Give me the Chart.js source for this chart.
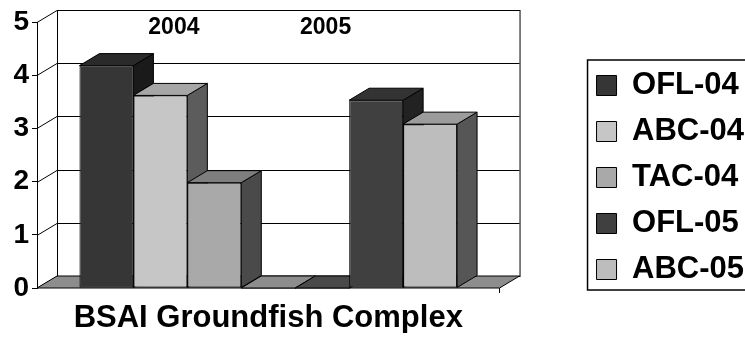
<!DOCTYPE html>
<html>
<head>
<meta charset="utf-8">
<script src="https://cdn.jsdelivr.net/npm/chart.js@4.4.1/dist/chart.umd.min.js"></script>
<style>
  html, body { margin: 0; padding: 0; background: #fff; }
  #wrap { width: 745px; height: 339px; position: relative; }
</style>
</head>
<body>
<div id="wrap"><canvas id="groundfishChart"></canvas></div>
<script>
// 数据
const categories = ['BSAI Groundfish Complex'];
const seriesNames = ['OFL-04', 'ABC-04', 'TAC-04', '', '', 'OFL-05', 'ABC-05'];
const seriesValues = [4.18, 3.62, 1.98, 0, 0, 3.53, 3.08];
const yTickValues = [0, 1, 2, 3, 4, 5];
const yearLabels = ['2004', '2005'];

// 颜色 (正面 / 顶面 / 侧面)
const frontColors = ['#363636', '#c6c6c6', '#a9a9a9', '#8d8d8d', '#505050', '#404040', '#bdbdbd'];
const topColors = ['#2a2a2a', '#a6a6a6', '#7e7e7e', '#8d8d8d', '#4a4a4a', '#333333', '#9c9c9c'];
const sideColors = ['#1a1a1a', '#5c5c5c', '#4a4a4a', '#666666', '#333333', '#222222', '#565656'];
const floorColor = '#8d8d8d';
const depth = { dx: 20, dy: 12 };

Chart.defaults.font.family = "'Liberation Sans', Arial, sans-serif";
Chart.defaults.color = '#000';

function poly(ctx, pts, fill) {
  ctx.beginPath();
  ctx.moveTo(pts[0][0], pts[0][1]);
  for (let i = 1; i < pts.length; i++) ctx.lineTo(pts[i][0], pts[i][1]);
  ctx.closePath();
  if (fill) { ctx.fillStyle = fill; ctx.fill(); }
  ctx.stroke();
}

// 3D 墙、地板、柱子的侧面和顶面
const walls3d = {
  id: 'walls3d',
  beforeDatasetsDraw(chart) {
    const { ctx, chartArea: a } = chart;
    const yScale = chart.scales.y;
    const { dx, dy } = depth;
    ctx.save();
    ctx.strokeStyle = '#000';
    ctx.lineWidth = 1;
    ctx.strokeRect(a.left + dx + 0.5, a.top - dy + 0.5, a.width, a.height);
    yTickValues.forEach(v => {
      const py = Math.round(yScale.getPixelForValue(v)) + 0.5;
      ctx.beginPath();
      ctx.moveTo(a.left, py);
      ctx.lineTo(a.left + dx, py - dy);
      ctx.lineTo(a.right + dx, py - dy);
      ctx.stroke();
    });
    // 地板
    poly(ctx, [[a.left, a.bottom], [a.right, a.bottom], [a.right + dx, a.bottom - dy], [a.left + dx, a.bottom - dy]], floorColor);
    ctx.beginPath();
    ctx.moveTo(a.right, a.bottom);
    ctx.lineTo(a.right, a.bottom + 5);
    ctx.stroke();
    // 柱子
    chart.data.datasets.forEach((ds, i) => {
      chart.getDatasetMeta(i).data.forEach(bar => {
        const { x, y, base, width } = bar.getProps(['x', 'y', 'base', 'width'], true);
        const x0 = x - width / 2, x1 = x + width / 2;
        poly(ctx, [[x1, base], [x1 + dx, base - dy], [x1 + dx, y - dy], [x1, y]], sideColors[i]);
        poly(ctx, [[x0, y], [x1, y], [x1 + dx, y - dy], [x0 + dx, y - dy]], topColors[i]);
      });
    });
    ctx.restore();
  },
  afterDatasetsDraw(chart) {
    const { ctx, chartArea: a } = chart;
    const pos = [0.296, 0.624];
    ctx.save();
    ctx.font = "bold 23px 'Liberation Sans', Arial, sans-serif";
    ctx.fillStyle = '#000';
    ctx.textAlign = 'center';
    ctx.textBaseline = 'middle';
    yearLabels.forEach((t, i) => ctx.fillText(t, a.left + pos[i] * a.width, 28));
    ctx.restore();
  }
};

// 图例边框
const legendBox = {
  id: 'legendBox',
  afterDraw(chart) {
    const lg = chart.legend;
    if (!lg || !lg.legendHitBoxes || !lg.legendHitBoxes.length) return;
    const boxes = lg.legendHitBoxes;
    const first = boxes[0], last = boxes[boxes.length - 1];
    const { ctx } = chart;
    ctx.save();
    ctx.strokeStyle = '#000';
    ctx.lineWidth = 1.5;
    const left = first.left - 9;
    const top = first.top - 10;
    const bottom = last.top + last.height + 5;
    ctx.strokeRect(left, top, 200, bottom - top);
    ctx.restore();
  }
};

const ctx = document.getElementById('groundfishChart').getContext('2d');
new Chart(ctx, {
  type: 'bar',
  data: {
    labels: categories,
    datasets: seriesNames.map((name, i) => ({
      label: name,
      data: [seriesValues[i]],
      backgroundColor: frontColors[i],
      borderColor: '#000',
      borderWidth: 1,
      borderSkipped: false,
      categoryPercentage: 0.8164,
      barPercentage: 1
    }))
  },
  options: {
    responsive: true,
    maintainAspectRatio: false,
    animation: false,
    layout: { padding: { top: 22, right: -9, bottom: 6, left: 0 } },
    scales: {
      x: {
        grid: { display: false, drawTicks: false },
        border: { display: false },
        ticks: { font: { size: 31, weight: 'bold' }, color: '#000', padding: 12 },
        afterFit: s => { s.height = 45; }
      },
      y: {
        min: 0,
        max: 5,
        afterBuildTicks: s => { s.ticks = yTickValues.map(v => ({ value: v })); },
        ticks: { font: { size: 28, weight: 'bold' }, color: '#000', padding: 3 },
        grid: { drawOnChartArea: false, drawTicks: true, tickLength: 5, color: '#000' },
        border: { display: true, color: '#000', width: 1 },
        afterFit: s => { s.width = 37; }
      },
      yGap: {
        type: 'linear',
        position: 'right',
        display: true,
        grid: { display: false },
        border: { display: false },
        ticks: { display: false },
        afterFit: s => { s.width = 82; }
      }
    },
    plugins: {
      legend: {
        position: 'right',
        align: 'center',
        maxWidth: 220,
        labels: {
          boxWidth: 20,
          boxHeight: 20,
          padding: 15,
          color: '#000',
          font: { size: 31, weight: 'bold' },
          filter: item => item.text !== ''
        }
      },
      tooltip: { enabled: false }
    }
  },
  plugins: [walls3d, legendBox]
});
</script>
</body>
</html>
